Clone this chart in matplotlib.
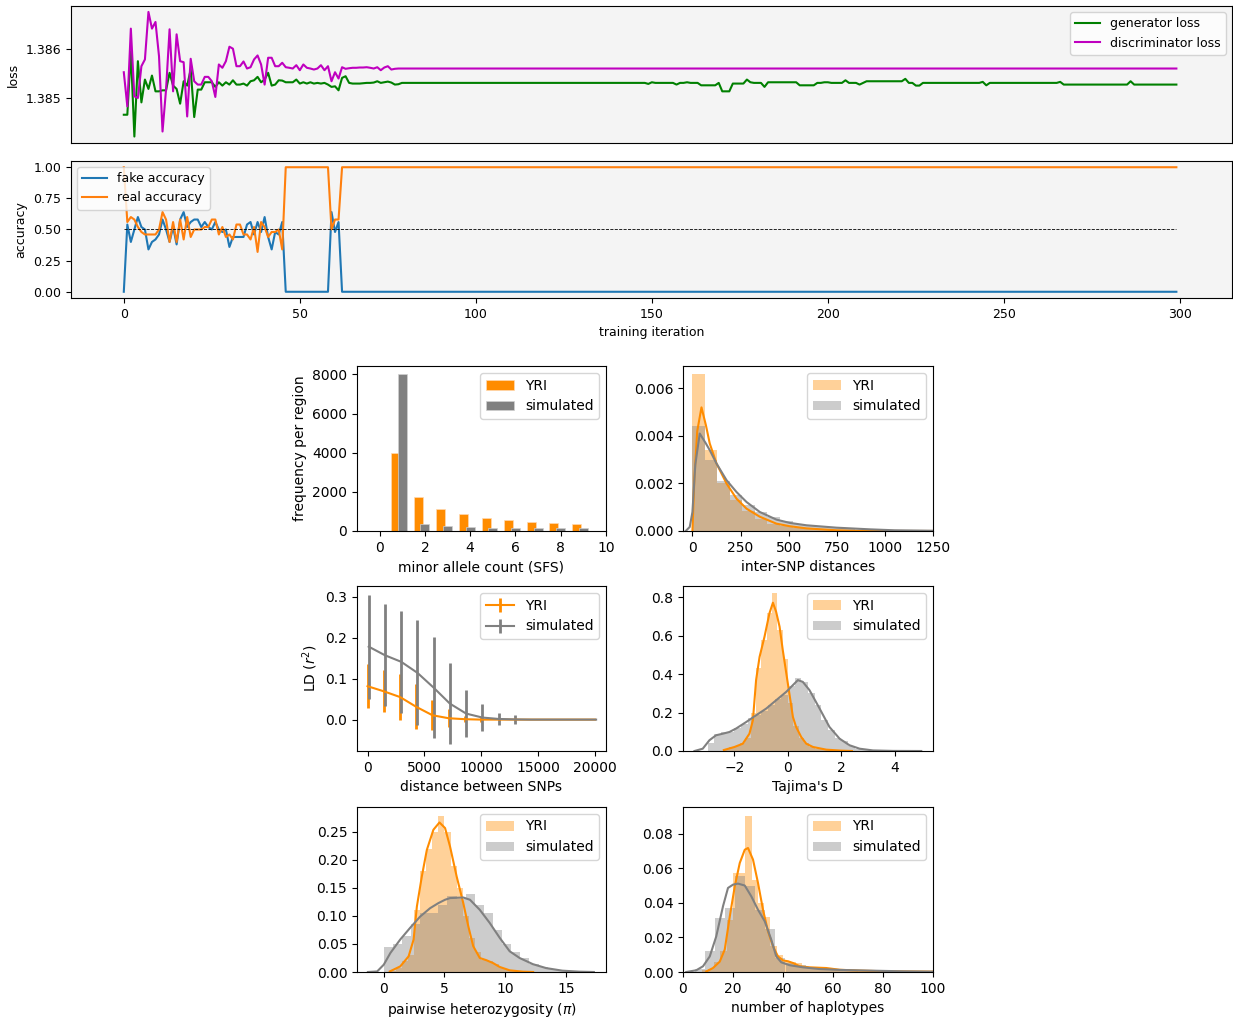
import numpy as np
import matplotlib
matplotlib.use("Agg")
import matplotlib.pyplot as plt

#%%
# training curves (one value per iteration, 300 iterations)

gen_loss = [1.384646, 1.384646, 1.385958, 1.384194, 1.385756, 1.384902, 1.385375, 1.385181, 1.385458, 1.385131,
            1.385131, 1.385152, 1.385152, 1.385515, 1.385250, 1.385181, 1.384875, 1.385340, 1.385250, 1.385583,
            1.384598, 1.385167, 1.385167, 1.385319, 1.385319, 1.385319, 1.385223, 1.385319, 1.385250, 1.385319,
            1.385271, 1.385360, 1.385271, 1.385271, 1.385292, 1.385250, 1.385340, 1.385360, 1.385431, 1.385319,
            1.385375, 1.385515, 1.385250, 1.385271, 1.385360, 1.385354, 1.385319, 1.385319, 1.385319, 1.385375,
            1.385292, 1.385319, 1.385292, 1.385319, 1.385292, 1.385306, 1.385292, 1.385306, 1.385271, 1.385223,
            1.385235, 1.385152, 1.385410, 1.385444, 1.385306, 1.385292, 1.385292, 1.385292, 1.385299, 1.385306,
            1.385306, 1.385313, 1.385340, 1.385306, 1.385319, 1.385333, 1.385313, 1.385271, 1.385278, 1.385306] \
    + [1.385306] * 69 + [1.385285, 1.385319] + [1.385306] * 6 + [1.385271] + [1.385306] * 2 + [1.385319] \
    + [1.385306] * 3 + [1.385256] * 5 + [1.385306] + [1.385131] * 3 + [1.385292] * 4 + [1.385375, 1.385319] \
    + [1.385306] * 3 + [1.385223] + [1.385319] * 9 + [1.385256] * 5 + [1.385306] * 2 + [1.385319] * 2 \
    + [1.385306] * 4 + [1.385360] + [1.385306] * 3 + [1.385271, 1.385306] + [1.385340] * 11 \
    + [1.385390, 1.385306, 1.385306] + [1.385250] * 2 + [1.385306] * 17 + [1.385327, 1.385256] \
    + [1.385306] * 20 + [1.385327] + [1.385271] * 19 + [1.385340] + [1.385271] * 13

disc_loss = [1.385527, 1.384819, 1.386431, 1.385027, 1.384994, 1.385652, 1.385792, 1.386777, 1.386431, 1.386569,
             1.385860, 1.384298, 1.385167, 1.386417, 1.385131, 1.386313, 1.385756, 1.385735, 1.384610, 1.385806,
             1.385340, 1.385271, 1.385271, 1.385431, 1.385431, 1.385340, 1.385015, 1.385688, 1.385619, 1.385756,
             1.386056, 1.386015, 1.385652, 1.385652, 1.385750, 1.385604, 1.385631, 1.385792, 1.385875, 1.385688,
             1.385271, 1.385827, 1.385827, 1.385652, 1.385652, 1.385723, 1.385631, 1.385619, 1.385604, 1.385673,
             1.385569, 1.385688, 1.385619, 1.385604, 1.385583, 1.385604, 1.385673, 1.385569, 1.385652, 1.385340,
             1.385527, 1.385396, 1.385631, 1.385598, 1.385610, 1.385619, 1.385619, 1.385625, 1.385625, 1.385631,
             1.385619, 1.385604, 1.385631, 1.385569, 1.385625, 1.385652, 1.385583, 1.385598, 1.385604, 1.385604] \
    + [1.385604] * 220

fake_acc = [0.00, 0.54, 0.40, 0.50, 0.60, 0.52, 0.50, 0.34, 0.40, 0.42,
            0.46, 0.58, 0.50, 0.40, 0.52, 0.38, 0.58, 0.64, 0.52, 0.56,
            0.58, 0.58, 0.52, 0.56, 0.52, 0.50, 0.56, 0.50, 0.48, 0.50,
            0.36, 0.44, 0.44, 0.44, 0.44, 0.54, 0.56, 0.46, 0.56, 0.48,
            0.60, 0.44, 0.34, 0.48, 0.46, 0.56] + [0.0] * 13 + [0.64, 0.48, 0.56] + [0.0] * 238

real_acc = [1.00, 0.56, 0.60, 0.58, 0.52, 0.48, 0.46, 0.46, 0.46, 0.46,
            0.50, 0.64, 0.58, 0.40, 0.56, 0.40, 0.58, 0.42, 0.60, 0.44,
            0.50, 0.50, 0.50, 0.52, 0.52, 0.58, 0.58, 0.46, 0.52, 0.44,
            0.46, 0.42, 0.54, 0.54, 0.46, 0.46, 0.42, 0.52, 0.32, 0.56,
            0.52, 0.44, 0.48, 0.48, 0.50, 0.34] + [1.0] * 13 + [0.50, 0.58, 0.58] + [1.0] * 238

iters = np.arange(len(gen_loss))

#%%
# summary statistics: YRI vs simulated

sfs_counts = [1, 2, 3, 4, 5, 6, 7, 8, 9]
sfs_yri = [4000, 1713, 1148, 857, 668, 582, 480, 428, 360]
sfs_sim = [8034, 377, 257, 206, 171, 154, 137, 137, 137]

dist_edges = [0, 65, 130, 195, 260, 325, 390, 455, 520, 585, 650, 715, 780, 845, 910, 975, 1040, 1105, 1170, 1235]
dist_hist_yri = [0.0066, 0.0034, 0.0020, 0.0013, 0.00085, 0.0005, 0.0003, 0.0002, 0.00012, 0.00008,
                 0.00005, 0.00003, 0.00002, 0.00001, 0.00001, 0.0, 0.0, 0.0, 0.0]
dist_hist_sim = [0.0044, 0.0030, 0.0021, 0.0015, 0.0011, 0.0008, 0.00058, 0.00042, 0.0003, 0.00022,
                 0.00016, 0.00012, 0.00009, 0.00006, 0.00005, 0.00004, 0.00003, 0.00002, 0.00001]
dist_kde_yri_x = [0, 10, 25, 47, 70, 90, 125, 177, 229, 281, 350, 436, 506, 593, 749, 922, 1250]
dist_kde_yri_y = [0.0, 0.0022, 0.0042, 0.0052, 0.00445, 0.00368, 0.00284, 0.0020, 0.00136, 0.00094,
                  0.0006, 0.00031, 0.0002, 0.00011, 0.00003, 0.0, 0.0]
dist_kde_sim_x = [-35, -14, 0, 15, 38, 70, 90, 125, 177, 229, 281, 350, 436, 506, 593, 749, 922, 1050, 1250]
dist_kde_sim_y = [0.0, 0.00017, 0.0008, 0.0028, 0.0041, 0.00368, 0.0034, 0.00284, 0.00214, 0.00164,
                  0.00122, 0.0008, 0.00048, 0.00034, 0.00024, 0.00014, 0.00007, 0.00003, 0.00001]

ld_x_yri = [0, 1430, 2860, 4290, 5710, 7140, 8570, 10000, 11430, 12860, 14290, 15710, 17140, 18570, 20000]
ld_x_sim = [100, 1530, 2960, 4390, 5810, 7240, 8670, 10100, 11530, 12960, 14390, 15810, 17240, 18670, 20100]
ld_yri = [0.0815, 0.069, 0.055, 0.031, 0.0106, 0.0033, 0.001, 0.0, 0.0, 0.0, 0.0, 0.0, 0.0, 0.0, 0.0]
ld_yri_err = [0.054, 0.051, 0.056, 0.055, 0.037, 0.022, 0.008, 0.006, 0.0, 0.0, 0.0, 0.0, 0.0, 0.0, 0.0]
ld_sim = [0.178, 0.157, 0.141, 0.114, 0.078, 0.039, 0.0147, 0.005, 0.0016, 0.0005, 0.0, 0.0, 0.0, 0.0, 0.0]
ld_sim_err = [0.127, 0.124, 0.125, 0.128, 0.124, 0.099, 0.058, 0.034, 0.015, 0.01, 0.0, 0.0, 0.0, 0.0, 0.0]

taj_edges_yri = [-2.4, -2.2, -2.0, -1.8, -1.6, -1.4, -1.2, -1.0, -0.8, -0.6, -0.4, -0.2,
                 0.0, 0.2, 0.4, 0.6, 0.8, 1.0, 1.2, 1.4, 1.6, 1.8, 2.0]
taj_hist_yri = [0.01, 0.02, 0.025, 0.04, 0.07, 0.2, 0.43, 0.58, 0.72, 0.82, 0.63, 0.48,
                0.25, 0.13, 0.07, 0.04, 0.02, 0.01, 0.008, 0.005, 0.003, 0.002]
taj_edges_sim = [-3.0, -2.75, -2.5, -2.25, -2.0, -1.75, -1.5, -1.25, -1.0, -0.75, -0.5, -0.25, 0.0,
                 0.25, 0.5, 0.75, 1.0, 1.25, 1.5, 1.75, 2.0, 2.25, 2.5, 2.75, 3.0, 3.25, 3.5]
taj_hist_sim = [0.04, 0.09, 0.10, 0.10, 0.12, 0.14, 0.17, 0.19, 0.21, 0.24, 0.27, 0.29, 0.34,
                0.38, 0.36, 0.30, 0.24, 0.16, 0.11, 0.07, 0.05, 0.025, 0.012, 0.006, 0.003, 0.001]
taj_kde_yri_x = [-2.4, -2.0, -1.69, -1.44, -1.31, -1.19, -1.06, -0.875, -0.69, -0.56, -0.44, -0.31,
                 -0.19, 0.0, 0.19, 0.31, 0.5, 0.69, 0.94, 1.44, 2.0, 2.4]
taj_kde_yri_y = [0.005, 0.021, 0.038, 0.09, 0.16, 0.37, 0.49, 0.595, 0.717, 0.772, 0.725, 0.647,
                 0.525, 0.351, 0.177, 0.125, 0.073, 0.038, 0.021, 0.007, 0.002, 0.0]
taj_kde_sim_x = [-3.5, -3.19, -2.94, -2.69, -2.44, -2.19, -1.94, -1.56, -1.19, -0.81, -0.44, -0.06,
                 0.19, 0.375, 0.56, 0.81, 1.19, 1.56, 1.94, 2.31, 2.69, 3.19, 3.94, 5.0]
taj_kde_sim_y = [0.0, 0.012, 0.056, 0.082, 0.09, 0.099, 0.117, 0.151, 0.186, 0.221, 0.264, 0.308,
                 0.343, 0.369, 0.36, 0.317, 0.221, 0.125, 0.064, 0.03, 0.012, 0.003, 0.0005, 0.0]

pi_edges_yri = [0.5, 1.0, 1.5, 2.0, 2.5, 3.0, 3.5, 4.0, 4.5, 5.0, 5.5, 6.0, 6.5, 7.0, 7.5, 8.0,
                8.5, 9.0, 9.5, 10.0, 10.5, 11.0, 11.5, 12.0, 12.5]
pi_hist_yri = [0.002, 0.008, 0.02, 0.03, 0.11, 0.18, 0.22, 0.25, 0.278, 0.25, 0.19, 0.15,
               0.10, 0.06, 0.035, 0.022, 0.02, 0.015, 0.008, 0.004, 0.002, 0.001, 0.001, 0.0005]
pi_edges_sim = [0.0, 0.75, 1.5, 2.25, 3.0, 3.75, 4.5, 5.25, 6.0, 6.75, 7.5, 8.25, 9.0, 9.75,
                10.5, 11.25, 12.0, 12.75, 13.5, 14.25, 15.0, 15.75, 16.5]
pi_hist_sim = [0.045, 0.05, 0.065, 0.085, 0.105, 0.105, 0.12, 0.135, 0.13, 0.14, 0.12, 0.105,
               0.075, 0.05, 0.035, 0.025, 0.015, 0.009, 0.005, 0.002, 0.001, 0.0005]
pi_kde_yri_x = [0.5, 1.36, 2.05, 2.46, 2.73, 3.14, 3.55, 4.09, 4.59, 5.05, 5.46, 6.0, 6.55, 6.96,
                7.37, 7.91, 8.46, 9.0, 9.55, 10.37, 11.46, 12.3]
pi_kde_yri_y = [0.001, 0.01, 0.028, 0.058, 0.117, 0.171, 0.218, 0.254, 0.267, 0.257, 0.224, 0.171,
                0.123, 0.082, 0.046, 0.025, 0.021, 0.016, 0.009, 0.003, 0.0006, 0.0]
pi_kde_sim_x = [-1.3, -0.54, 0.0, 0.55, 1.36, 2.18, 3.0, 3.82, 4.5, 5.05, 5.46, 6.55, 7.1, 7.91,
                8.73, 9.55, 10.37, 11.19, 12.28, 13.37, 14.7, 16.1, 17.3]
pi_kde_sim_y = [0.0, 0.001, 0.013, 0.034, 0.058, 0.079, 0.099, 0.114, 0.123, 0.129, 0.132, 0.133,
                0.129, 0.111, 0.0875, 0.061, 0.037, 0.025, 0.014, 0.007, 0.0024, 0.0006, 0.0]

hap_edges_yri = [7.5, 10.0, 12.5, 15.0, 17.5, 20.0, 22.5, 25.0, 27.5, 30.0, 32.5, 35.0, 37.5, 40.0,
                 42.5, 45.0, 47.5, 50.0, 52.5, 55.0, 57.5, 60.0, 62.5, 65.0, 67.5, 70.0]
hap_hist_yri = [0.001, 0.002, 0.006, 0.012, 0.03, 0.057, 0.057, 0.09, 0.053, 0.04, 0.032, 0.015,
                0.01, 0.006, 0.006, 0.005, 0.003, 0.002, 0.002, 0.0015, 0.001, 0.001, 0.0008, 0.0006, 0.0005]
hap_edges_sim = [5, 9, 13, 17, 21, 25, 29, 33, 37, 41, 45, 49, 53, 57, 61, 65, 69, 73, 77, 81,
                 85, 89, 93, 97]
hap_hist_sim = [0.002, 0.012, 0.031, 0.037, 0.0557, 0.05, 0.036, 0.025, 0.008, 0.005, 0.004, 0.003,
                0.002, 0.0017, 0.0013, 0.001, 0.0009, 0.0008, 0.0006, 0.0005, 0.0004, 0.0003, 0.0002]
hap_kde_yri_x = [9.3, 12, 14.7, 16.7, 18.7, 20.7, 22.7, 24.7, 26, 28, 30, 32, 34, 36, 38, 40, 42,
                 44, 46.7, 50.7, 57.3, 62.7, 70.7, 81.3, 100]
hap_kde_yri_y = [0.0003, 0.0023, 0.006, 0.013, 0.032, 0.0495, 0.063, 0.0707, 0.0717, 0.065, 0.0515,
                 0.036, 0.0235, 0.0148, 0.009, 0.0067, 0.0062, 0.0052, 0.0033, 0.0027, 0.0023,
                 0.0013, 0.0008, 0.0004, 0.0002]
hap_kde_sim_x = [1.3, 5.3, 8, 10.7, 13.3, 16, 18, 20, 22, 24.7, 27.3, 30, 32.7, 35.3, 37.3, 39.3,
                 42.7, 48, 54.7, 62.7, 74.7, 88, 100]
hap_kde_sim_y = [0.0, 0.001, 0.0033, 0.009, 0.0206, 0.038, 0.0486, 0.0505, 0.0511, 0.05, 0.0438,
                 0.036, 0.0293, 0.0187, 0.009, 0.0056, 0.0039, 0.0027, 0.0017, 0.0012, 0.0008,
                 0.0004, 0.0002]

#%%

W, H = 1233, 1017
fig = plt.figure(figsize=(W / 100, H / 100), dpi=100)

def px_axes(left, top, right, bottom):
    """axes from pixel box of the figure"""
    return fig.add_axes([left / W, 1 - bottom / H, (right - left) / W, (bottom - top) / H])

bg = "#f4f4f4"

# loss panel
ax = px_axes(71, 6, 1232, 143)
ax.set_facecolor(bg)
ax.plot(iters, gen_loss, color="green", lw=1.5, label="generator loss")
ax.plot(iters, disc_loss, color="m", lw=1.5, label="discriminator loss")
ax.set_xlim(-15, 314.8)
ax.set_ylim(1.38406, 1.38690)
ax.set_yticks([1.385, 1.386])
ax.set_xticks([])
ax.set_ylabel("loss", fontsize=9)
ax.tick_params(labelsize=9)
ax.legend(loc="upper right", fontsize=9)

# accuracy panel
ax = px_axes(71, 161, 1232, 298)
ax.set_facecolor(bg)
ax.plot(iters, fake_acc, lw=1.5, label="fake accuracy")
ax.plot(iters, real_acc, lw=1.5, label="real accuracy")
ax.plot([0, len(iters) - 1], [0.5, 0.5], "k--", lw=0.6)
ax.set_xlim(-15, 314.8)
ax.set_yticks([0.0, 0.25, 0.5, 0.75, 1.0])
ax.set_ylabel("accuracy", fontsize=9)
ax.set_xlabel("training iteration", fontsize=9)
ax.tick_params(labelsize=9)
ax.legend(loc="upper left", fontsize=9)

#%%

orange = "darkorange"
grey = "grey"

def hist_kde(ax, e_yri, h_yri, e_sim, h_sim, kx_yri, ky_yri, kx_sim, ky_sim):
    ax.bar(e_yri[:-1], h_yri, width=np.diff(e_yri), align="edge", color=orange, alpha=0.4,
           linewidth=0, label="YRI")
    ax.plot(kx_yri, ky_yri, color=orange, lw=1.5)
    ax.bar(e_sim[:-1], h_sim, width=np.diff(e_sim), align="edge", color=grey, alpha=0.4,
           linewidth=0, label="simulated")
    ax.plot(kx_sim, ky_sim, color=grey, lw=1.5)
    ax.legend(loc="upper right", fontsize=10)
    ax.tick_params(labelsize=10)

colL, colR = 357, 683
wid = 249
rows = [(366, 531), (586, 751), (807, 972)]

# SFS
ax = px_axes(colL, rows[0][0], colL + wid, rows[0][1])
ax.bar(np.array(sfs_counts) - 0.3, sfs_yri, width=0.4, color=orange, edgecolor="#ffd9b0",
       linewidth=0.5, label="YRI")
ax.bar(np.array(sfs_counts), sfs_sim, width=0.4, color=grey, edgecolor="#d0d0d0",
       linewidth=0.5, label="simulated")
ax.set_xlim(-1, 10)
ax.set_ylim(0, 8430)
ax.set_xticks([0, 2, 4, 6, 8, 10])
ax.set_xlabel("minor allele count (SFS)", fontsize=10)
ax.set_ylabel("frequency per region", fontsize=10)
ax.legend(loc="upper right", fontsize=10)
ax.tick_params(labelsize=10)

# inter-SNP distances
ax = px_axes(colR, rows[0][0], colR + wid + 1, rows[0][1])
hist_kde(ax, dist_edges, dist_hist_yri, dist_edges, dist_hist_sim,
         dist_kde_yri_x, dist_kde_yri_y, dist_kde_sim_x, dist_kde_sim_y)
ax.set_xlim(-49, 1250)
ax.set_ylim(0, 0.00694)
ax.set_xlabel("inter-SNP distances", fontsize=10)

# LD
ax = px_axes(colL, rows[1][0], colL + wid, rows[1][1])
ax.errorbar(ld_x_yri, ld_yri, yerr=ld_yri_err, color=orange, lw=1.5, elinewidth=2, label="YRI")
ax.errorbar(ld_x_sim, ld_sim, yerr=ld_sim_err, color=grey, lw=1.5, elinewidth=2, label="simulated")
ax.set_xlim(-930, 20970)
ax.set_ylim(-0.0766, 0.326)
ax.set_xlabel("distance between SNPs", fontsize=10)
ax.set_ylabel("LD ($r^2$)", fontsize=10)
ax.legend(loc="upper right", fontsize=10)
ax.tick_params(labelsize=10)

# Tajima's D
ax = px_axes(colR, rows[1][0], colR + wid + 1, rows[1][1])
hist_kde(ax, taj_edges_yri, taj_hist_yri, taj_edges_sim, taj_hist_sim,
         taj_kde_yri_x, taj_kde_yri_y, taj_kde_sim_x, taj_kde_sim_y)
ax.set_xlim(-3.93, 5.44)
ax.set_ylim(0, 0.859)
ax.set_xticks([-2, 0, 2, 4])
ax.set_xlabel("Tajima's D", fontsize=10)

# pairwise heterozygosity
ax = px_axes(colL, rows[2][0], colL + wid, rows[2][1])
hist_kde(ax, pi_edges_yri, pi_hist_yri, pi_edges_sim, pi_hist_sim,
         pi_kde_yri_x, pi_kde_yri_y, pi_kde_sim_x, pi_kde_sim_y)
ax.set_xlim(-2.2, 18.3)
ax.set_ylim(0, 0.2946)
ax.set_yticks([0.0, 0.05, 0.10, 0.15, 0.20, 0.25])
ax.set_xlabel("pairwise heterozygosity ($\\pi$)", fontsize=10)

# number of haplotypes
ax = px_axes(colR, rows[2][0], colR + wid + 1, rows[2][1])
hist_kde(ax, hap_edges_yri, hap_hist_yri, hap_edges_sim, hap_hist_sim,
         hap_kde_yri_x, hap_kde_yri_y, hap_kde_sim_x, hap_kde_sim_y)
ax.set_xlim(0, 100)
ax.set_ylim(0, 0.0954)
ax.set_xlabel("number of haplotypes", fontsize=10)

fig.savefig("out.png", dpi=100)
